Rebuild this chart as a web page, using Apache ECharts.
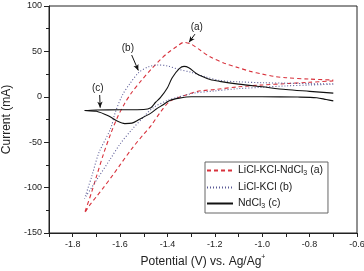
<!DOCTYPE html>
<html>
<head>
<meta charset="utf-8">
<script src="https://cdn.jsdelivr.net/npm/echarts@6/dist/echarts.min.js"></script>
<style>
html,body{margin:0;padding:0;background:#fff;}
#main{width:364px;height:271px;}
</style>
</head>
<body>
<div id="main"></div>
<script>
// 每条曲线按扫描顺序：从 -0.7V 负扫到 -1.75V，再回扫到 -0.7V
var aPot = [-0.70,-0.80,-0.90,-1.00,-1.10,-1.20,-1.26,-1.30,-1.34,-1.39,-1.43,-1.47,-1.50,-1.55,-1.60,-1.63,-1.67,-1.70,-1.73,-1.75,
	-1.72,-1.70,-1.67,-1.64,-1.61,-1.58,-1.55,-1.51,-1.47,-1.43,-1.40,-1.36,-1.33,-1.30,-1.26,-1.22,-1.16,-1.10,-1.05,-1.00,-0.95,-0.90,-0.80,-0.70];
var aCur = [17.5,16,14.5,13,11,8,6.6,4,0.4,-5,-17,-32,-41,-57,-75,-86,-100,-110,-120,-128,
	-105,-88,-63,-41,-22,-7,5,18,30,41,48,55.5,60,58,51,44,37,32,28,25,22.5,21,19.5,18.5];

var bPot = [-0.70,-0.80,-0.90,-1.00,-1.10,-1.20,-1.29,-1.35,-1.40,-1.46,-1.50,-1.55,-1.60,-1.64,-1.70,-1.75,
	-1.72,-1.69,-1.64,-1.62,-1.59,-1.56,-1.52,-1.48,-1.44,-1.40,-1.35,-1.30,-1.24,-1.18,-1.10,-1.00,-0.90,-0.80,-0.70];
var bCur = [13.8,13,12,10.5,9,6.5,4,0,-4,-12,-22,-36,-52,-68,-92,-112,
	-88,-62,-35,-17,2,14,27,33,35,34,30,27,22,18,16.5,15.5,15,14.5,14.3];

var cPot = [-0.70,-0.73,-0.77,-0.85,-1.00,-1.20,-1.30,-1.35,-1.39,-1.42,-1.45,-1.47,-1.52,-1.55,-1.58,-1.61,-1.65,-1.70,-1.75,
	-1.70,-1.60,-1.50,-1.47,-1.45,-1.43,-1.40,-1.38,-1.35,-1.33,-1.31,-1.28,-1.25,-1.22,-1.18,-1.10,-1.00,-0.90,-0.80,-0.70];
var cCur = [-4.5,-3,-1,-0.3,0,0,0,-1.5,-4,-9,-14,-18,-25,-29,-29.5,-27,-21,-16,-15,
	-14.5,-14.3,-14,-12,-6,-1,10,21,31,33.5,32,26,22,19,17,14,11,8,6,4];

var seriesNames = ['LiCl-KCl-NdCl3 (a)','LiCl-KCl (b)','NdCl3 (c)'];

// 标注 (a)(b)(c)：文字位置、箭头起点、箭头终点
var noteText = ['(a)','(b)','(c)'];
var noteAt = [[-1.276,77],[-1.567,54],[-1.694,9]];
var arrowFrom = [[-1.284,69],[-1.551,46],[-1.686,2]];
var arrowTo = [[-1.309,60],[-1.523,29],[-1.684,-12]];

var xTicks = [-1.9,-0.6];
var yTicks = [-150,100];

function pairs(xs, ys){
	var out = [];
	for (var i = 0; i < xs.length; i++) {
		out.push([xs[i], ys[i]]);
	}
	return out;
}

var font = 'Arial, "Liberation Sans", sans-serif';

var myChart = echarts.init(document.getElementById('main'));

var markLines = [];
var markPoints = [];
for (var i = 0; i < noteText.length; i++) {
	markLines.push([{coord: arrowFrom[i]}, {coord: arrowTo[i]}]);
	markPoints.push({coord: noteAt[i], value: noteText[i]});
}

option = {
	animation: false,
	grid: {
		left: 49, right: 7, top: 6, bottom: 38,
		outerBoundsMode: 'none',
		containLabel: false,
		show: true, borderColor: '#222', borderWidth: 1
	},
	legend: {
		orient: 'vertical',
		left: 205, top: 162,
		padding: [3, 5, 3, 1],
		itemGap: 5,
		itemWidth: 26,
		itemHeight: 12,
		borderColor: '#666',
		borderWidth: 1,
		itemStyle: {opacity: 0},
		data: seriesNames,
		formatter: function(name){
			if (name == seriesNames[0]) return '{n|LiCl-KCl-NdCl}{s|3}{n| (a)}';
			if (name == seriesNames[2]) return '{n|NdCl}{s|3}{n| (c)}';
			return '{n|LiCl-KCl (b)}';
		},
		textStyle: {
			fontFamily: font, color: '#222',
			rich: {
				n: {fontSize: 10.5, fontFamily: font, color: '#222'},
				s: {fontSize: 7, fontFamily: font, color: '#222', padding: [6, 0, 0, 0]}
			}
		}
	},
	xAxis: {
		type: 'value',
		min: xTicks[0], max: xTicks[1],
		interval: 0.1,
		name: '{t|Potential (V) vs. Ag/Ag}{p|+}',
		nameLocation: 'middle',
		nameGap: 21,
		nameTextStyle: {
			rich: {
				t: {fontSize: 12, fontFamily: font, color: '#222'},
				p: {fontSize: 7, fontFamily: font, color: '#222', padding: [0, 0, 8, 0]}
			}
		},
		axisLine: {onZero: false, lineStyle: {color: '#222'}},
		axisTick: {inside: false, length: 4, lineStyle: {color: '#222'}},
		splitLine: {show: false},
		axisLabel: {
			fontSize: 9, fontFamily: font, color: '#222', margin: 7,
			formatter: function(v){
				var r = Math.round(v * 10);
				if (r % 2 != 0) return '';
				return (r / 10).toFixed(1);
			}
		}
	},
	yAxis: {
		type: 'value',
		min: yTicks[0], max: yTicks[1],
		interval: 50,
		name: 'Current (mA)',
		nameLocation: 'middle',
		nameGap: 33,
		nameTextStyle: {fontSize: 12, fontFamily: font, color: '#222'},
		axisLine: {lineStyle: {color: '#222'}},
		axisTick: {inside: false, length: 5, lineStyle: {color: '#222'}},
		minorTick: {show: true, splitNumber: 2, length: 3, lineStyle: {color: '#222'}},
		splitLine: {show: false},
		axisLabel: {fontSize: 9, fontFamily: font, color: '#222', margin: 7}
	},
	series: [
		{
			name: seriesNames[0], type: 'line', showSymbol: false, symbol: 'none',
			data: pairs(aPot, aCur), smooth: 0.3,
			lineStyle: {color: '#d8323c', width: 1.1, type: [4, 3]},
			itemStyle: {color: '#d8323c'}
		},
		{
			name: seriesNames[1], type: 'line', showSymbol: false, symbol: 'none',
			data: pairs(bPot, bCur), smooth: 0.3,
			lineStyle: {color: '#5a5a96', width: 1.1, type: [1, 2]},
			itemStyle: {color: '#5a5a96'}
		},
		{
			name: seriesNames[2], type: 'line', showSymbol: false, symbol: 'none',
			data: pairs(cPot, cCur), smooth: 0.3,
			lineStyle: {color: '#111', width: 1.1, type: 'solid'},
			itemStyle: {color: '#111'},
			markLine: {
				silent: true, animation: false,
				symbol: ['none', 'arrow'], symbolSize: [4, 6],
				label: {show: false},
				lineStyle: {color: '#111', width: 1, type: 'solid'},
				emphasis: {disabled: true},
				data: markLines
			},
			markPoint: {
				silent: true, animation: false,
				symbol: 'circle', symbolSize: 0,
				label: {
					show: true, position: 'inside', color: '#222',
					fontSize: 10, fontFamily: font,
					formatter: function(p){ return p.value; }
				},
				data: markPoints
			}
		}
	]
};

myChart.setOption(option);
</script>
</body>
</html>
